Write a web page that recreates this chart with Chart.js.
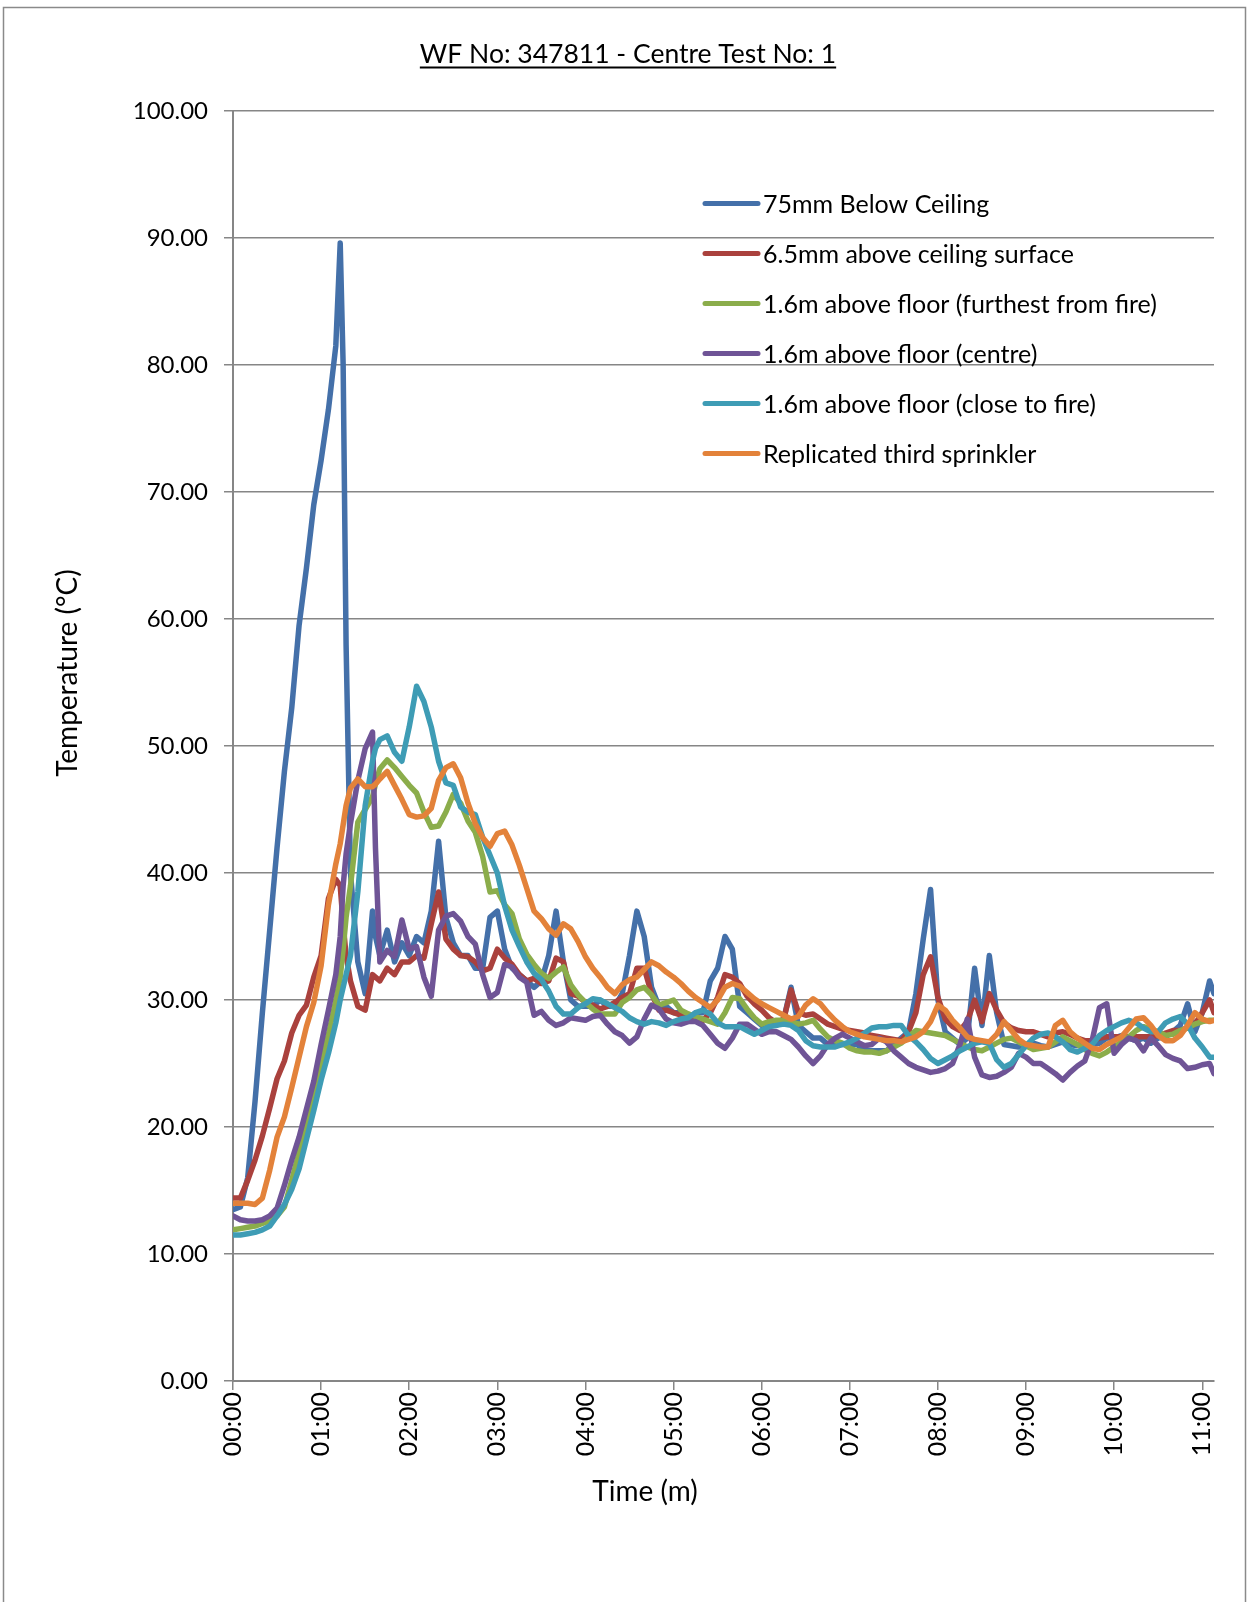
<!DOCTYPE html>
<html>
<head>
<meta charset="utf-8">
<script src="https://cdn.jsdelivr.net/npm/chart.js@4.4.0/dist/chart.umd.min.js"></script>
<style>
  html, body { margin: 0; padding: 0; background: #fff; }
  canvas { display: block; }
</style>
</head>
<body>
<canvas id="myChart" width="1248" height="1602"></canvas>
<script>
const chartTitle = 'WF No: 347811 - Centre Test No: 1';
const xTitle = 'Time (m)';
const yTitle = 'Temperature (°C)';

// time since start, seconds
const time_s = [
  0,5,10,15,20,25,30,35,40,45,50,55,
  60,65,70,73,75,77,80,85,90,95,97,
  100,105,110,115,
  120,125,130,135,140,145,150,155,160,165,170,175,
  180,185,190,195,200,205,210,215,220,225,230,235,
  240,245,250,255,260,265,270,275,280,285,290,295,
  300,305,310,315,320,325,330,335,340,345,350,355,
  360,365,370,375,380,385,390,395,400,405,410,415,
  420,425,430,435,440,445,450,455,460,465,470,475,
  480,485,490,495,500,505,510,515,520,525,530,535,
  540,545,550,555,560,565,570,575,580,585,590,595,
  600,605,610,615,620,625,630,635,640,645,650,655,
  660,665,668
];

const below_ceiling = [
  13.5,13.7,16,22,29,35.5,42,48,53,59.5,64,69,
  72.5,76.5,81.5,89.6,80,58,40,33,30.5,37,35,
  33.5,35.5,33,34.5,
  33.5,35,34.5,37,42.5,36.5,34.5,33.5,33.5,32.5,32.5,36.5,
  37,34,32.5,32,31.5,31,31.5,33.5,37,33,30,29.5,
  29.5,29.5,30,29.5,29.5,30.5,33.5,37,35,31,29.5,29.5,
  29,29,28.5,29,29,31.5,32.5,35,34,29.5,29,28.5,
  28,28,28,28.5,31,28,27.5,27,27,26.5,26.5,26.5,
  26.5,26.5,26,26,26,26,26.5,27,27.5,30.5,34.8,38.7,
  30,27.5,27,26.5,27,32.5,28,33.5,29,26.5,26.4,26.3,
  26.5,26.6,26.4,26.3,26.5,26.7,26.5,26.4,26.6,26.5,26.6,27,
  27,27.2,27,26.8,27,26.6,27,27.1,27.5,28,29.7,27.5,
  29,31.5,30.5
];

const above_ceiling_surface = [
  14.4,14.4,15.8,17.4,19.3,21.5,23.8,25.2,27.4,28.8,29.6,31.8,
  33.5,38,39.5,39,36,33.5,31.5,29.5,29.2,32,31.8,
  31.5,32.5,32,33,
  33,33.5,33.3,36,38.5,34.8,34,33.5,33.4,33,32.3,32.5,
  34,33.3,32.8,32,31.5,31.7,31.3,31.5,33.3,33,30.5,30.3,
  29.8,29.6,29.3,29.5,29.8,30.2,30.5,32.5,32.5,30.5,29.2,29.2,
  29,28.8,28.7,28.6,28.4,29,30.2,32,31.8,31.3,30.3,29.7,
  29.2,28.6,28.2,28.5,30.8,29,28.8,28.9,28.5,28.1,27.9,27.7,
  27.6,27.5,27.4,27.2,27.1,27,26.9,26.8,27.5,29,32,33.4,
  30.2,28.5,27.9,27.6,28.3,30,28.3,30.5,29.2,28.2,27.8,27.6,
  27.5,27.5,27.3,27.1,27.4,27.5,27.3,27,26.8,26.8,27,27.1,
  27.1,27.1,27.1,27.1,27.1,27.1,27.2,27.4,27.6,27.6,27.8,28.1,
  29,30,29
];

const floor_furthest = [
  11.9,12,12.1,12.2,12.4,12.6,13,13.7,15.8,18,20.3,22.5,
  25,27.3,30,31.8,34,36.5,39,44,45,46,47,
  48.2,48.9,48.3,47.6,
  46.9,46.3,44.8,43.6,43.7,44.8,46.2,45.5,44.1,43.2,41.3,38.5,
  38.6,37.5,36.8,34.8,33.6,32.8,32.1,31.7,32.2,32.6,31.2,30.4,
  29.8,29.3,28.9,28.9,28.9,29.8,30.2,30.8,31,30.4,29.6,29.8,
  30,29.2,28.9,28.7,28.5,28.3,28.1,29,30.2,30.1,29.3,28.6,
  28.1,28.3,28.4,28.4,28.3,28.1,28.2,28.4,27.7,27.1,26.8,26.6,
  26.2,26,25.9,25.9,25.8,26,26.3,26.6,27.1,27.6,27.5,27.4,
  27.3,27.2,26.9,26.6,26.3,26.1,26,26.3,26.6,26.9,27,26.7,
  26.4,26.1,26.2,26.3,26.7,27.1,26.8,26.5,26.1,25.8,25.6,25.9,
  26.3,26.7,27.1,27.6,27.9,27.7,27.5,27.2,27.3,27.6,27.8,28.1,
  28.3,28.4,28.4
];

const floor_centre = [
  13,12.7,12.6,12.6,12.7,13,13.6,15.4,17.4,19.2,21.4,23.6,
  26.5,29.2,32,35,39,41.5,43.9,47.3,49.8,51.1,42,
  33,33.9,33.4,36.3,
  34,34.2,31.8,30.3,35.5,36.6,36.8,36.2,35,34.4,32,30.2,
  30.6,32.8,32.6,31.8,31.4,28.8,29.1,28.4,28,28.2,28.6,28.5,
  28.4,28.7,28.8,28.1,27.5,27.2,26.6,27.1,28.5,29.6,29.3,28.5,
  28.2,28.1,28.3,28.3,28,27.3,26.6,26.2,27,28.1,28.1,27.7,
  27.3,27.5,27.5,27.2,26.9,26.3,25.6,25,25.6,26.5,27,27.3,
  27,26.7,26.4,26.5,27,26.7,26,25.5,25,24.7,24.5,24.3,
  24.4,24.6,25,26.5,28.5,25.5,24.1,23.9,24,24.3,24.7,25.8,
  25.5,25,25,24.6,24.2,23.7,24.3,24.8,25.2,26.8,29.4,29.7,
  25.8,26.5,27,26.8,26,27,26.4,25.7,25.4,25.2,24.6,24.7,
  24.9,25,24.2
];

const floor_close = [
  11.5,11.5,11.6,11.7,11.9,12.2,13,13.9,15.1,16.7,19,21.3,
  23.7,25.8,28.2,30,31,32,33.5,38.5,45.3,48.8,49.8,
  50.5,50.8,49.5,48.8,
  51.5,54.7,53.5,51.5,48.8,47.1,46.9,45.2,44.8,44.6,42.8,41.4,
  40,37.4,35.5,34.2,33,32.1,31.6,30.7,29.5,28.9,28.9,29.4,
  29.7,30.1,30,29.7,29.4,29.1,28.6,28.3,28.1,28.3,28.2,28,
  28.3,28.5,28.6,29,29.2,28.9,28.2,27.9,27.9,27.9,27.6,27.3,
  27.6,27.9,28,28.1,28,27.6,26.8,26.4,26.3,26.3,26.3,26.5,
  26.7,27,27.4,27.8,27.9,27.9,28,28,27.2,26.7,26.1,25.4,
  25,25.3,25.6,26,26.3,26.6,26.7,26.6,25.3,24.7,25,25.7,
  26.4,27,27.3,27.4,27.1,26.7,26.1,25.9,26.2,26.5,27.2,27.6,
  27.9,28.2,28.4,28.2,27.8,27.5,27.5,28.2,28.5,28.7,28.1,27,
  26.3,25.5,25.5
];

const third_sprinkler = [
  14,14,14,13.9,14.4,16.6,19.2,20.8,23.1,25.5,27.9,29.8,
  32.7,37.5,40.7,42.3,43.8,45.3,46.7,47.4,46.8,46.8,47,
  47.4,48,46.9,45.8,
  44.6,44.4,44.5,45.1,47.3,48.3,48.6,47.5,45.5,43.9,42.8,42.1,
  43.1,43.3,42.2,40.6,38.8,37,36.4,35.6,35.1,36,35.6,34.6,
  33.4,32.5,31.8,31,30.5,31.2,31.6,31.8,32.4,33,32.7,32.2,
  31.8,31.3,30.7,30.2,29.8,29.4,30,31,31.3,31.1,30.6,30.1,
  29.7,29.4,29.1,28.8,28.5,28.7,29.6,30.1,29.7,29,28.4,27.9,
  27.5,27.3,27.1,27,26.9,26.8,26.8,26.7,26.9,27.1,27.5,28.3,
  29.6,29.2,28.4,27.8,27.1,26.9,26.8,26.7,27.3,28.3,27.6,26.9,
  26.5,26.4,26.3,26.3,28,28.4,27.5,27,26.6,26.2,26.1,26.5,
  26.8,27.1,27.8,28.5,28.6,28,27.2,26.8,26.8,27.2,28,29,
  28.5,28.3,28.4
];

const series = [
  { label: '75mm Below Ceiling', data: below_ceiling, color: '#4470A9' },
  { label: '6.5mm above ceiling surface', data: above_ceiling_surface, color: '#AA413D' },
  { label: '1.6m above floor (furthest from fire)', data: floor_furthest, color: '#8BAD4B' },
  { label: '1.6m above floor (centre)', data: floor_centre, color: '#6F5496' },
  { label: '1.6m above floor (close to fire)', data: floor_close, color: '#3E9CB5' },
  { label: 'Replicated third sprinkler', data: third_sprinkler, color: '#E3823A' }
];

const mmss = v => String(Math.floor(v / 60)).padStart(2, '0') + ':00';

// white sheet, outer frame, underlined title and axis titles
const sheetDecor = {
  id: 'sheetDecor',
  beforeDraw(chart) {
    const ctx = chart.ctx;
    ctx.save();
    ctx.fillStyle = '#fff';
    ctx.fillRect(0, 0, chart.width, chart.height);
    ctx.strokeStyle = '#8a8a8a';
    ctx.lineWidth = 1.5;
    ctx.strokeRect(3.5, 7.5, 1242, 1700);
    ctx.restore();
  },
  afterDraw(chart) {
    const ctx = chart.ctx;
    ctx.save();
    ctx.fillStyle = '#000';
    ctx.font = '26.5px Lato';
    ctx.textAlign = 'center';
    ctx.textBaseline = 'alphabetic';
    const w = ctx.measureText(chartTitle).width;
    ctx.fillText(chartTitle, 628, 63);
    ctx.fillRect(628 - w / 2, 66.5, w, 2);

    ctx.font = '28px Lato';
    ctx.textBaseline = 'middle';
    ctx.fillText(xTitle, 645, 1492);
    ctx.translate(68, 673);
    ctx.rotate(-Math.PI / 2);
    ctx.fillText(yTitle, 0, 0);
    ctx.restore();
  }
};

// legend sitting inside the plot, over the gridlines
const sideLegend = {
  id: 'sideLegend',
  afterDatasetsDraw(chart) {
    const ctx = chart.ctx;
    ctx.save();
    ctx.font = '25px Lato';
    ctx.textAlign = 'left';
    ctx.textBaseline = 'middle';
    chart.data.datasets.forEach((ds, i) => {
      const y = 203.5 + i * 50;
      ctx.strokeStyle = ds.borderColor;
      ctx.lineWidth = 5;
      ctx.lineCap = 'round';
      ctx.beginPath();
      ctx.moveTo(705, y);
      ctx.lineTo(758, y);
      ctx.stroke();
      ctx.fillStyle = '#000';
      ctx.fillText(ds.label, 763, y + 1);
    });
    ctx.restore();
  }
};

let config = {
  type: 'line',
  data: {
    datasets: series.map((s, i) => ({
      label: s.label,
      data: time_s.map((t, k) => ({ x: t, y: s.data[k] })),
      borderColor: s.color,
      backgroundColor: s.color,
      borderWidth: 5.5,
      pointRadius: 0,
      tension: 0,
      borderJoinStyle: 'round',
      borderCapStyle: 'round',
      fill: false,
      order: series.length - i
    }))
  },
  options: {
    responsive: false,
    animation: false,
    devicePixelRatio: 1,
    layout: { padding: { top: 111, right: 34, bottom: 0, left: 0 } },
    plugins: {
      legend: { display: false },
      title: { display: false },
      tooltip: { enabled: false }
    },
    scales: {
      x: {
        type: 'linear',
        min: 0,
        max: 668,
        ticks: {
          stepSize: 60,
          includeBounds: false,
          autoSkip: false,
          minRotation: 90,
          maxRotation: 90,
          padding: 2,
          color: '#000',
          font: { family: 'Lato', size: 25 },
          callback: v => mmss(v)
        },
        grid: { drawOnChartArea: false, color: '#868686', lineWidth: 1.5, tickLength: 9 },
        border: { color: '#868686', width: 2 },
        afterFit: s => { s.height = 221; }
      },
      y: {
        min: 0,
        max: 100,
        ticks: {
          stepSize: 10,
          padding: 16,
          color: '#000',
          font: { family: 'Lato', size: 24 },
          callback: v => v.toFixed(2)
        },
        grid: { color: '#868686', lineWidth: 1.5, tickLength: 9 },
        border: { color: '#868686', width: 2 },
        afterFit: s => { s.width = 233; }
      }
    }
  },
  plugins: [sheetDecor, sideLegend]
};

window.onload = () => {
  document.fonts.load('24px Lato').finally(() => {
    new Chart(document.getElementById('myChart'), config);
  });
};
</script>
</body>
</html>
